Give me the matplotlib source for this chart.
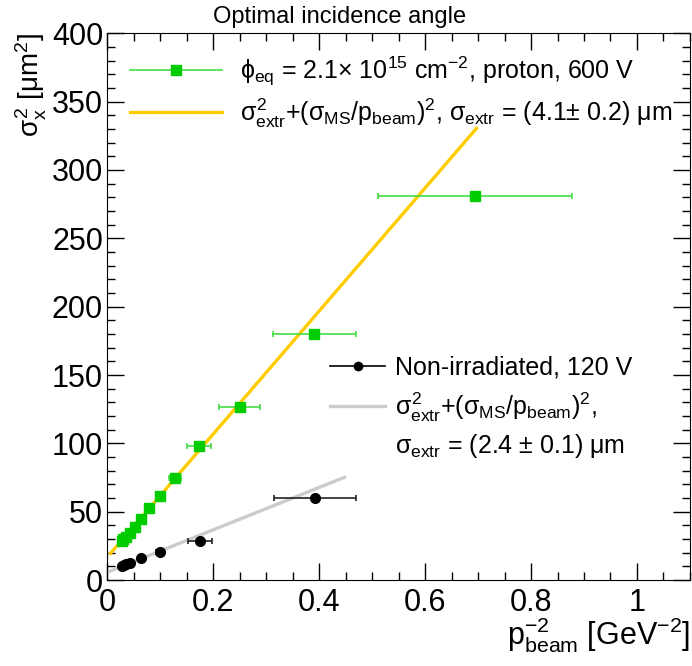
import numpy as np
import matplotlib.pyplot as plt
from matplotlib.ticker import MultipleLocator
from matplotlib.lines import Line2D

plt.rcParams['font.family'] = ['Liberation Sans', 'DejaVu Sans']
plt.rcParams['mathtext.fontset'] = 'custom'
plt.rcParams['mathtext.rm'] = 'Liberation Sans'
plt.rcParams['mathtext.it'] = 'Liberation Sans'
plt.rcParams['mathtext.sf'] = 'Liberation Sans'
plt.rcParams['mathtext.bf'] = 'Liberation Sans:bold'

# proton irradiated, 600 V
p2_irr = [0.694, 0.391, 0.250, 0.173, 0.128, 0.0998, 0.0797, 0.0633, 0.052, 0.042, 0.035, 0.030, 0.027]
p2_irr_err = [0.183, 0.078, 0.039, 0.022, 0.012, 0.008, 0.006, 0.005, 0.004, 0.003, 0.003, 0.002, 0.002]
sig_irr = [281, 180, 126.5, 98, 74.6, 61.2, 52.6, 44.4, 39, 34.6, 31.5, 30, 28.5]

# non-irradiated, 120 V
p2_non = [0.392, 0.175, 0.0998, 0.064, 0.043, 0.035, 0.031, 0.028]
p2_non_err = [0.078, 0.022, 0.008, 0.005, 0.003, 0.003, 0.002, 0.002]
sig_non = [60.2, 28.7, 20.5, 16.3, 12.7, 11.5, 10.7, 10.2]

# fits: sigma_extr^2 + k * p^-2
fit_irr = (4.1, 450.0, 0.006, 0.697)
fit_non = (2.4, 155.0, 0.006, 0.448)

fig = plt.figure(figsize=(6.92, 6.66), dpi=100)
ax = fig.add_axes([0.155, 0.129, 0.842, 0.821])

for sx, k, x0, x1, col in [fit_irr + ('#ffcc00',), fit_non + ('#cccccc',)]:
    xs = np.array([x0, x1])
    ax.plot(xs, sx**2 + k * xs, color=col, lw=2.4, zorder=2)

ax.errorbar(p2_irr, sig_irr, xerr=p2_irr_err, fmt='s', color='#00cc00', ms=7.5,
            ecolor='#44dd44', elinewidth=1.2, capsize=2, capthick=1.2, zorder=3)
ax.errorbar(p2_non, sig_non, xerr=p2_non_err, fmt='o', color='black', ms=7,
            ecolor='#222222', elinewidth=1.2, capsize=2, capthick=1.2, zorder=3)

ax.set_xlim(0, 1.1)
ax.set_ylim(0, 400)
ax.xaxis.set_minor_locator(MultipleLocator(0.05))
ax.yaxis.set_major_locator(MultipleLocator(50))
ax.yaxis.set_minor_locator(MultipleLocator(10))
ax.set_xticks([0, 0.2, 0.4, 0.6, 0.8, 1.0])
ax.set_xticklabels(['0', '0.2', '0.4', '0.6', '0.8', '1'])
ax.tick_params(which='both', direction='in', top=True, right=True, labelsize=22, width=1)
ax.tick_params(which='major', length=12)
ax.tick_params(which='minor', length=6)
ax.tick_params(axis='x', pad=6)
ax.tick_params(axis='y', pad=3)

ax.set_xlabel(r'p$^{-2}_{beam}$ [GeV$^{-2}$]', loc='right', fontsize=22, labelpad=-2)
ax.set_ylabel(r'$\sigma^2_x$ [$\mu$m$^2$]', loc='top', fontsize=20, labelpad=2)
fig.text(0.49, 0.975, 'Optimal incidence angle', ha='center', va='center', fontsize=17)

h1 = [Line2D([], [], color='#44dd44', lw=1.2, marker='s', ms=7.5, mfc='#00cc00', mec='#00cc00'),
      Line2D([], [], color='#ffcc00', lw=2.4)]
l1 = [r'$\phi_{eq}$ = 2.1$\times$ 10$^{15}$ cm$^{-2}$, proton, 600 V',
      r'$\sigma^2_{extr}$+($\sigma_{MS}$/p$_{beam}$)$^2$, $\sigma_{extr}$ = (4.1$\pm$ 0.2) $\mu$m']
leg1 = ax.legend(h1, l1, loc='upper left', bbox_to_anchor=(0.039, 0.961), frameon=False,
                 fontsize=18, handlelength=3.68, handletextpad=0.72, labelspacing=0.35,
                 borderpad=0, borderaxespad=0)
ax.add_artist(leg1)

h2 = [Line2D([], [], color='black', lw=1.2, marker='o', ms=6),
      Line2D([], [], color='#cccccc', lw=2.4)]
l2 = ['Non-irradiated, 120 V',
      r'$\sigma^2_{extr}$+($\sigma_{MS}$/p$_{beam}$)$^2$,']
leg2 = ax.legend(h2, l2, loc='upper left', bbox_to_anchor=(0.3825, 0.411), frameon=False,
                 fontsize=18, handlelength=2.2, handletextpad=0.4, labelspacing=0.45,
                 borderpad=0, borderaxespad=0)
ax.text(0.494, 0.245, r'$\sigma_{extr}$ = (2.4 $\pm$ 0.1) $\mu$m', transform=ax.transAxes,
        fontsize=18, ha='left', va='center')

fig.savefig('out.png', dpi=100)
